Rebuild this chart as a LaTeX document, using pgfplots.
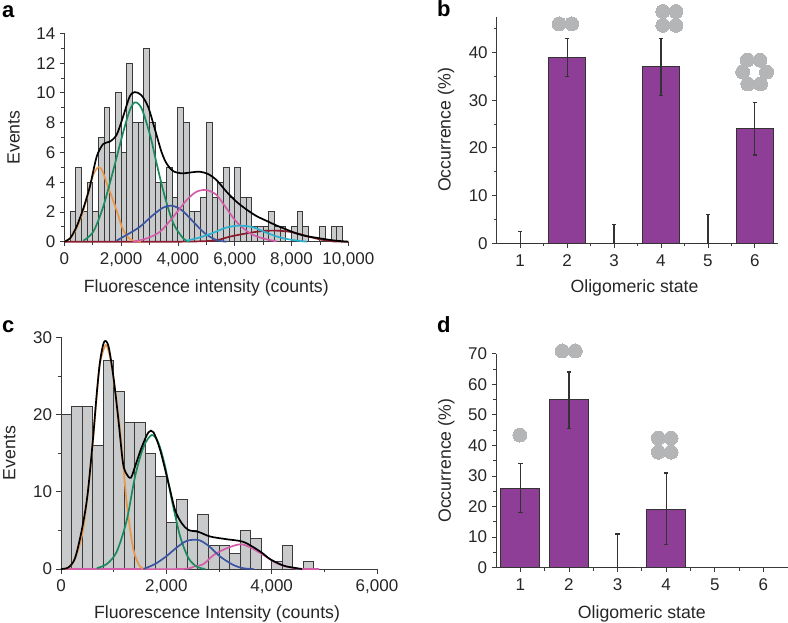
\documentclass[border=0pt]{standalone}
\usepackage{fontspec}
\setmainfont{Liberation Sans}
\usepackage{pgfplots}
\pgfplotsset{compat=1.18}

\definecolor{axisgray}{HTML}{3A3A3A}
\definecolor{bargray}{HTML}{C9CACC}
\definecolor{dotgray}{HTML}{B4B5B7}
\definecolor{purp}{HTML}{8E3E96}
\definecolor{corange}{HTML}{E9984A}
\definecolor{cgreen}{HTML}{1B8A5C}
\definecolor{cblue}{HTML}{3B55A3}
\definecolor{cpink}{HTML}{D45DA9}
\definecolor{ccyan}{HTML}{2CB1CF}
\definecolor{cred}{HTML}{8A1C2E}

\pgfplotsset{
  panel/.style={
    scale only axis, clip=false,
    axis lines=left, axis line style={-, axisgray, line width=0.9pt},
    tick style={axisgray, line width=0.8pt},
    tick align=outside, major tick length=4.5pt, minor tick length=3pt,
    enlargelimits=false,
    tick label style={font=\fontsize{17}{20}\selectfont, text=black!85},
    /pgf/number format/assume math mode=true,
    /pgf/number format/1000 sep={,},
    scaled ticks=false,
    xticklabel style={yshift=-3pt},
    yticklabel style={xshift=-1pt},
    every axis x label/.style={at={(axis description cs:0.5,0)}, anchor=north, font=\fontsize{17.7}{20}\selectfont, text=black!85},
    every axis y label/.style={at={(axis description cs:0,0.5)}, anchor=south, rotate=90, font=\fontsize{17.7}{20}\selectfont, text=black!85},
  },
  hist/.style={ybar interval, draw=axisgray, line width=0.9pt, fill=bargray},
  fit/.style={smooth, no marks, line width=1.7pt},
  sbar/.style={ybar, bar width=0.8, bar shift=0pt, draw=black!80, line width=1pt, fill=purp,
    error bars/.cd, y dir=both, y explicit,
    error bar style={black!80, line width=1.2pt},
    error mark options={rotate=90, mark size=2.2pt, black!80, line width=1.2pt}},
  dots/.style={only marks, mark=*, mark size=7pt, color=dotgray, mark options={fill=dotgray, draw=dotgray, line width=0pt}},
}

\begin{document}
\begin{tikzpicture}[x=1pt,y=1pt]
\useasboundingbox (0,0) rectangle (788,622);

% a
\begin{axis}[panel, at={(64.3pt,380.3pt)}, anchor=south west, width=284pt, height=208.4pt,
  xmin=0, xmax=10000, ymin=0, ymax=14,
  xtick={0,2000,...,10000}, minor xtick={1000,3000,...,9000},
  ytick={0,2,...,14}, minor ytick={1,3,...,13},
  xlabel={Fluorescence intensity (counts)}, ylabel={Events},
  xlabel style={yshift=-34pt}, ylabel style={yshift=41pt}]
\addplot[hist] coordinates {
  (200,2)(400,5)(600,2)(800,4)(1000,2)(1200,7)(1400,9)(1600,6)(1800,10)(2000,6)
  (2200,12)(2400,8)(2600,8)(2800,13)(3000,8)(3200,4)(3400,4)(3600,5)(3800,3)(4000,9)
  (4200,8)(4400,2)(4600,2)(4800,3)(5000,8)(5200,3)(5400,4)(5600,5)(5800,3)(6000,5)
  (6200,3)(6400,3)(6600,1)(6800,1)(7000,1)(7200,2)(7400,1)(7600,1)(7800,0)(8000,1)
  (8200,2)(8400,1)(8600,0)(8800,0)(9000,1)(9200,0)(9400,1)(9600,1)(9800,0)
};
\addplot[fit, cred] coordinates {(0,0)(2000,0)(4000,0)(5250,.07)(5830,.34)(6420,.56)(7000,.72)(7530,.74)(8060,.63)(8530,.38)(9000,.16)(9470,.02)(10000,0)};
\addplot[fit, corange] coordinates {(0,.05)(200,.2)(430,.9)(670,2.1)(900,3.7)(1040,4.6)(1200,5)(1330,4.8)(1500,3.9)(1790,2.4)(2070,.8)(2300,.2)(2430,.07)(2700,0)};
\addplot[fit, cgreen] coordinates {(670,.07)(1020,.67)(1370,2.35)(1725,4.8)(2080,7.4)(2310,8.85)(2490,9.36)(2720,8.96)(3020,7.17)(3250,5.26)(3540,3.02)(3840,1.23)(4190,.22)(4420,0)};
\addplot[fit, cblue] coordinates {(1840,.07)(2190,.45)(2660,1)(3130,1.8)(3490,2.3)(3780,2.42)(4130,2.13)(4540,1.34)(4950,.56)(5360,.11)(5710,0)};
\addplot[fit, cpink] coordinates {(2430,0)(2900,.22)(3370,.67)(3840,1.68)(4310,2.8)(4660,3.36)(5010,3.47)(5360,3.14)(5710,2.24)(6060,1.34)(6540,.56)(7000,.22)(7480,.02)};
\addplot[fit, ccyan] coordinates {(4310,.07)(4780,.29)(5250,.6)(5720,.96)(6190,1.08)(6660,.96)(7120,.6)(7590,.29)(8060,.11)(8530,0)};
\addplot[fit, black] coordinates {
  (0,0)(200,.22)(430,1)(670,2.24)(900,3.7)(1140,5.71)(1370,6.56)(1600,6.72)(1840,7.17)
  (2070,8.4)(2300,9.74)(2480,10.05)(2710,9.85)(2950,9.07)(3180,7.62)(3420,6.05)(3600,5.26)
  (3830,4.75)(4130,4.59)(4480,4.66)(4770,4.7)(5060,4.55)(5360,4.14)(5710,3.36)(6060,2.69)
  (6410,2.17)(6760,1.73)(7110,1.41)(7460,1.1)(7810,.83)(8160,.56)(8510,.38)(8860,.27)
  (9210,.16)(9560,.07)(10000,0)};
\end{axis}

% b
\begin{axis}[panel, at={(496.7pt,378.7pt)}, anchor=south west, width=281.6pt, height=226.6pt,
  xmin=0.5, xmax=6.5, ymin=0, ymax=47.5,
  xtick={1,...,6}, minor xtick={1.5,2.5,3.5,4.5,5.5},
  ytick={0,10,...,40}, minor ytick={5,15,...,45},
  xlabel={Oligomeric state}, ylabel={Occurrence (\%)},
  xlabel style={yshift=-33pt, xshift=-3pt}, ylabel style={yshift=39pt}]
\addplot[sbar] coordinates {
  (1,0) += (0,2.5) -= (0,0)
  (2,39) += (0,4) -= (0,4)
  (3,0) += (0,4) -= (0,0)
  (4,37) += (0,6) -= (0,6)
  (5,0) += (0,6) -= (0,0)
  (6,24) += (0,5.5) -= (0,5.5)
};
\addplot[dots] coordinates {(1.83,46)(2.1,46)};
\addplot[dots] coordinates {(4.04,48.6)(4.32,48.6)(4.04,45.7)(4.32,45.7)};
\addplot[dots] coordinates {(5.84,38.4)(6.11,38.4)(5.74,35.9)(6.25,35.9)(5.85,33.4)(6.12,33.4)};
\end{axis}

% c
\begin{axis}[panel, at={(61pt,53pt)}, anchor=south west, width=316pt, height=231.7pt,
  xmin=0, xmax=6000, ymin=0, ymax=30,
  xtick={0,2000,4000,6000}, minor xtick={1000,3000,5000},
  ytick={0,10,20,30}, minor ytick={5,15,25},
  xlabel={Fluorescence Intensity (counts)}, ylabel={Events},
  xlabel style={yshift=-33pt, xshift=-2pt}, ylabel style={yshift=42pt}]
\addplot[hist] coordinates {
  (0,20)(200,21)(400,21)(600,16)(800,27)(1000,23)(1200,19)(1400,19)(1600,15)(1800,12)
  (2000,6)(2200,9)(2400,5)(2600,7)(2800,3)(3000,3)(3200,2)(3400,5)(3600,4)(3800,0)
  (4000,1)(4200,3)(4400,0)(4600,1)(4800,0)
};
\addplot[fit, cpink] coordinates {(0,0)(1000,0)(2295,0)(2517,.3)(2707,.65)(2897,1.8)(3151,2.7)(3405,3.2)(3595,2.8)(3848,1.8)(4102,.73)(4356,.2)(4546,0)(4900,0)};
\addplot[fit, corange] coordinates {(0,0)(140,.15)(266,1.3)(400,4.4)(500,9.2)(600,16)(680,22.5)(742,26.7)(850,29)(930,27.5)(1000,24.5)(1122,18)(1249,8.5)(1376,2.5)(1503,.3)(1600,0)};
\addplot[fit, cgreen] coordinates {(680,.1)(870,.65)(1059,2.25)(1249,6.35)(1407,12)(1566,15.8)(1725,17.35)(1851,16.3)(1978,13.25)(2105,8.9)(2263,4.2)(2422,1.4)(2580,.3)(2739,0)};
\addplot[fit, cblue] coordinates {(1566,0)(1788,.65)(2010,1.7)(2200,2.8)(2390,3.65)(2612,3.75)(2802,3)(3024,1.6)(3278,.5)(3468,.09)(3658,0)};
\addplot[fit, black] coordinates {
  (0,0)(140,.2)(266,1.4)(393,5)(500,9.4)(600,16.3)(680,22.8)(742,26.9)(818,29.4)(900,28.9)
  (995,24.9)(1090,19.3)(1173,13.9)(1236,12.4)(1325,11.8)(1407,13.3)(1534,15.8)(1661,17.7)
  (1756,17.7)(1883,15.4)(2041,11.1)(2168,7.6)(2295,5.9)(2422,5.05)(2612,4.8)(2834,4.2)
  (3151,3.85)(3468,3.5)(3785,2.25)(3975,1.25)(4229,.43)(4419,.17)(4577,0)};
\end{axis}

% d
\begin{axis}[panel, at={(496pt,54.3pt)}, anchor=south west, width=291.7pt, height=214pt,
  xmin=0.5, xmax=6.5, ymin=0, ymax=70,
  xtick={1,...,6}, minor xtick={1.5,2.5,3.5,4.5,5.5},
  ytick={0,10,...,70}, minor ytick={5,15,...,65},
  xlabel={Oligomeric state}, ylabel={Occurrence (\%)},
  xlabel style={yshift=-34pt}, ylabel style={yshift=38pt}]
\addplot[sbar] coordinates {
  (1,26) += (0,8) -= (0,8)
  (2,55) += (0,9) -= (0,9.5)
  (3,0) += (0,11) -= (0,0)
  (4,19) += (0,12) -= (0,11.5)
};
\addplot[dots] coordinates {(.99,43.4)};
\addplot[dots] coordinates {(1.86,70.9)(2.13,70.9)};
\addplot[dots] coordinates {(3.84,42.4)(4.1,42.4)(3.84,37.8)(4.1,37.8)};
\end{axis}

\node[anchor=base west, inner sep=0pt, font=\fontsize{22}{24}\selectfont\bfseries] at (2,604) {a};
\node[anchor=base west, inner sep=0pt, font=\fontsize{22}{24}\selectfont\bfseries] at (437,605) {b};
\node[anchor=base west, inner sep=0pt, font=\fontsize{22}{24}\selectfont\bfseries] at (2,289) {c};
\node[anchor=base west, inner sep=0pt, font=\fontsize{22}{24}\selectfont\bfseries] at (437,289) {d};
\end{tikzpicture}
\end{document}
